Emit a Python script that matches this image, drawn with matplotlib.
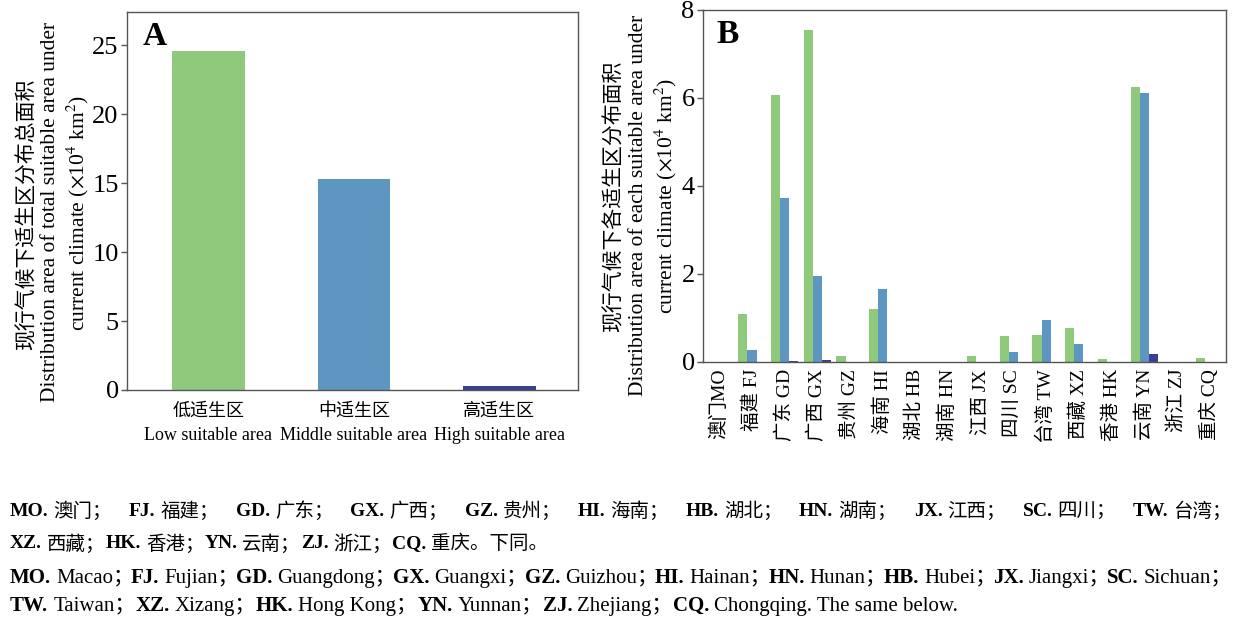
import matplotlib
matplotlib.use("Agg")
import matplotlib.pyplot as plt
import numpy as np

W, H = 1242, 627
SERIF = ["Liberation Serif", "Noto Sans CJK SC"]
plt.rcParams["font.family"] = SERIF
plt.rcParams["mathtext.fontset"] = "stix"

GREEN = "#8fc97c"
BLUE = "#5e96c2"
NAVY = "#3b3f8e"
FRAME = "#555555"

# panel A: total area by suitability class (x10^4 km2)
classes_cn = ["低适生区", "中适生区", "高适生区"]
classes_en = ["Low suitable area", "Middle suitable area", "High suitable area"]
total_area = [24.6, 15.3, 0.3]

# panel B: area by province
provinces = ["澳门MO", "福建 FJ", "广东 GD", "广西 GX", "贵州 GZ", "海南 HI",
             "湖北 HB", "湖南 HN", "江西 JX", "四川 SC", "台湾 TW", "西藏 XZ",
             "香港 HK", "云南 YN", "浙江 ZJ", "重庆 CQ"]
low_area = [0, 1.08, 6.07, 7.55, 0.13, 1.20, 0, 0, 0.13, 0.60, 0.62, 0.77,
            0.07, 6.25, 0, 0.09]
mid_area = [0, 0.28, 3.73, 1.96, 0, 1.66, 0, 0, 0, 0.22, 0.96, 0.42,
            0, 6.12, 0, 0]
high_area = [0, 0, 0.03, 0.04, 0, 0.01, 0, 0, 0, 0, 0.01, 0,
             0, 0.18, 0, 0]

fig = plt.figure(figsize=(W / 100, H / 100), dpi=100)


def px_axes(l, t, r, b):
    return fig.add_axes([l / W, 1 - b / H, (r - l) / W, (b - t) / H])


def style(ax):
    for s in ax.spines.values():
        s.set_color(FRAME)
        s.set_linewidth(1.0)
    ax.tick_params(axis="y", direction="out", length=4, width=1, color=FRAME,
                   labelsize=19, pad=2)
    ax.tick_params(axis="x", length=0)


# ---- panel A
axA = px_axes(127, 12, 578, 390)
xa = np.arange(len(total_area))
axA.bar(xa, total_area, width=0.5, color=[GREEN, BLUE, NAVY])
axA.set_xlim(-0.56, 2.54)
axA.set_ylim(0, 27.4)
axA.set_yticks([0, 5, 10, 15, 20, 25])
axA.set_xticks(xa)
axA.set_xticklabels([f"{c}\n{e}" for c, e in zip(classes_cn, classes_en)],
                    fontsize=13, linespacing=1.6)
axA.tick_params(axis="x", pad=9)
style(axA)
axA.text(0.035, 0.975, "A", transform=axA.transAxes, fontsize=24,
         fontweight="bold", va="top", ha="left")

# ---- panel B
axB = px_axes(703, 10, 1226, 362)
xb = np.arange(len(provinces))
bw = 0.28
axB.bar(xb - bw, low_area, width=bw, color=GREEN)
axB.bar(xb, mid_area, width=bw, color=BLUE)
axB.bar(xb + bw, high_area, width=bw, color=NAVY)
axB.set_xlim(-0.5, 15.5)
axB.set_ylim(0, 8)
axB.set_yticks([0, 2, 4, 6, 8])
axB.set_xticks(xb)
axB.set_xticklabels(provinces, rotation=90, fontsize=14)
axB.tick_params(axis="x", pad=5)
style(axB)
axB.text(0.025, 0.975, "B", transform=axB.transAxes, fontsize=24,
         fontweight="bold", va="top", ha="left")

# ---- y labels (three stacked lines)
def ylab(x, y, txt, size):
    fig.text(x / W, 1 - y / H, txt, rotation=90, ha="center", va="center",
             fontsize=size)


ylab(27, 214, "现行气候下适生区分布总面积", 15)
ylab(51, 212, "Distribution area of total suitable area under", 15.5)
ylab(78, 213, r"current climate ($\times$10$^4$ km$^2$)", 15.5)
ylab(614, 196, "现行气候下各适生区分布面积", 15)
ylab(639, 205, "Distribution area of each suitable area under", 15.5)
ylab(666, 196, r"current climate ($\times$10$^4$ km$^2$)", 15.5)

# ---- caption
cap_cn1 = [("MO.", "澳门"), ("FJ.", "福建"), ("GD.", "广东"), ("GX.", "广西"),
           ("GZ.", "贵州"), ("HI.", "海南"), ("HB.", "湖北"), ("HN.", "湖南"),
           ("JX.", "江西"), ("SC.", "四川"), ("TW.", "台湾")]
cap_cn2 = [("XZ.", "西藏"), ("HK.", "香港"), ("YN.", "云南"), ("ZJ.", "浙江"),
           ("CQ.", "重庆")]
cap_en1 = [("MO.", "Macao"), ("FJ.", "Fujian"), ("GD.", "Guangdong"),
           ("GX.", "Guangxi"), ("GZ.", "Guizhou"), ("HI.", "Hainan"),
           ("HN.", "Hunan"), ("HB.", "Hubei"), ("JX.", "Jiangxi"),
           ("SC.", "Sichuan")]
cap_en2 = [("TW.", "Taiwan"), ("XZ.", "Xizang"), ("HK.", "Hong Kong"),
           ("YN.", "Yunnan"), ("ZJ.", "Zhejiang"), ("CQ.", "Chongqing")]

fig.canvas.draw()
renderer = fig.canvas.get_renderer()


def caption_line(pairs, y, tail_sep, ending, justify, size):
    left, right = 10, 1232
    pieces = []
    for i, (code, name) in enumerate(pairs):
        end = ending if i == len(pairs) - 1 else tail_sep
        for txt, bold in ((code, True), (name + end, False)):
            t = fig.text(0, 1 - y / H, txt, fontsize=size, va="center",
                         ha="left", fontweight="bold" if bold else "normal")
            w = t.get_window_extent(renderer).width
            pieces.append((t, w, bold))
    inner = 5
    total = sum(p[1] for p in pieces) + inner * len(pairs)
    gap = 0
    if justify:
        gap = (right - left - total) / (len(pairs) - 1)
    x = left
    for k, (t, w, bold) in enumerate(pieces):
        t.set_x(x / W)
        x += w
        if bold:
            x += inner
        elif k < len(pieces) - 1:
            x += gap


caption_line(cap_cn1, 511, "；", "；", True, 14)
caption_line(cap_cn2, 544, "；", "。下同。", False, 14)
caption_line(cap_en1, 578, "；", "；", True, 15)
caption_line(cap_en2, 606, "；", ". The same below.", False, 15)

fig.savefig("out.png", dpi=100)
